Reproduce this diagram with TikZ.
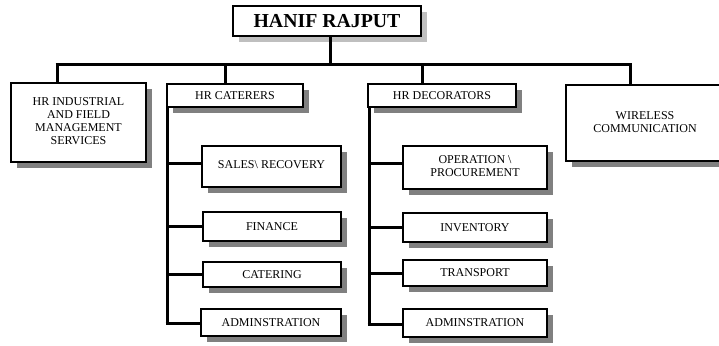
\documentclass[tikz,border=0pt]{standalone}
\usepackage{fontspec}
\setmainfont{Liberation Serif}
\usetikzlibrary{shadows}
\newcommand{\mlines}[2]{\raisebox{#1}{\begin{tabular}{@{}c@{}}#2\end{tabular}}}
\begin{document}
\begin{tikzpicture}[x=1pt,y=-1pt,
  box/.style={draw, line width=2.5pt, fill=white, align=center, inner sep=0pt,
    font=\fontsize{12}{13}\selectfont,
    drop shadow={shadow xshift=6pt, shadow yshift=-6pt, fill=black!50, opacity=1}},
  topbox/.style={box, font=\fontsize{19.8}{22}\selectfont\bfseries,
    drop shadow={shadow xshift=6pt, shadow yshift=-6pt, fill=black!25, opacity=1}},
  conn/.style={line width=3pt}]
\useasboundingbox (0,0) rectangle (719,345);
% boxes
\node[topbox, minimum width=188pt, minimum height=30pt] (top) at (327,21) {HANIF RAJPUT};
\node[box, minimum width=135pt, minimum height=79pt] (ind) at (78.5,122.5) {\mlines{5pt}{HR INDUSTRIAL\\AND FIELD\\MANAGEMENT\\SERVICES}};
\node[box, minimum width=136pt, minimum height=23pt] (cat) at (235,95.5) {HR CATERERS};
\node[box, minimum width=148pt, minimum height=23pt] (dec) at (442,95.5) {HR DECORATORS};
\node[box, minimum width=158pt, minimum height=76pt] (wir) at (645,123) {\mlines{3pt}{WIRELESS\\COMMUNICATION}};
\node[box, minimum width=139pt, minimum height=41pt] (sales) at (271.5,166.5) {\raisebox{4pt}{SALES\textbackslash{} RECOVERY}};
\node[box, minimum width=138pt, minimum height=29pt] (fin) at (272,226.5) {FINANCE};
\node[box, minimum width=138pt, minimum height=25pt] (catg) at (272,274.5) {CATERING};
\node[box, minimum width=140pt, minimum height=27pt] (adm1) at (271,322.5) {ADMINSTRATION};
\node[box, minimum width=144pt, minimum height=43pt] (op) at (475,167.5) {\mlines{1.5pt}{OPERATION \textbackslash\\PROCUREMENT}};
\node[box, minimum width=144pt, minimum height=29pt] (inv) at (475,227.5) {INVENTORY};
\node[box, minimum width=144pt, minimum height=26pt] (tra) at (475,273) {TRANSPORT};
\node[box, minimum width=144pt, minimum height=28pt] (adm2) at (475,323) {ADMINSTRATION};
% bus coordinates
\coordinate (b0) at (330,64);
\coordinate (b1) at (57,64);
\coordinate (b2) at (225,64);
\coordinate (b3) at (422,64);
\coordinate (b4) at (630,64);
\coordinate (cs) at (167,323);
\coordinate (ds) at (369,324);
% connectors
\draw[conn] (b0 |- top.south) -- (b0);
\draw[conn] ([xshift=-1.5pt]b1) -- ([xshift=1.5pt]b4);
\draw[conn] (b1) -- (b1 |- ind.north);
\draw[conn] (b2) -- (b2 |- cat.north);
\draw[conn] (b3) -- (b3 |- dec.north);
\draw[conn] (b4) -- (b4 |- wir.north);
% caterers
\draw[conn] (cs |- cat.south) -- ([yshift=-1.5pt]cs);
\draw[conn] (cs |- 0,163) -- (sales.west |- 0,163);
\draw[conn] (cs |- fin.west) -- (fin.west);
\draw[conn] (cs |- catg.west) -- (catg.west);
\draw[conn] ([xshift=-1.5pt]cs) -- (adm1.west |- cs);
% decorators
\draw[conn] (ds |- dec.south) -- ([yshift=-1.5pt]ds);
\draw[conn] (ds |- 0,163) -- (op.west |- 0,163);
\draw[conn] (ds |- inv.west) -- (inv.west);
\draw[conn] (ds |- tra.west) -- (tra.west);
\draw[conn] ([xshift=-1.5pt]ds) -- (adm2.west |- ds);
\end{tikzpicture}
\end{document}
